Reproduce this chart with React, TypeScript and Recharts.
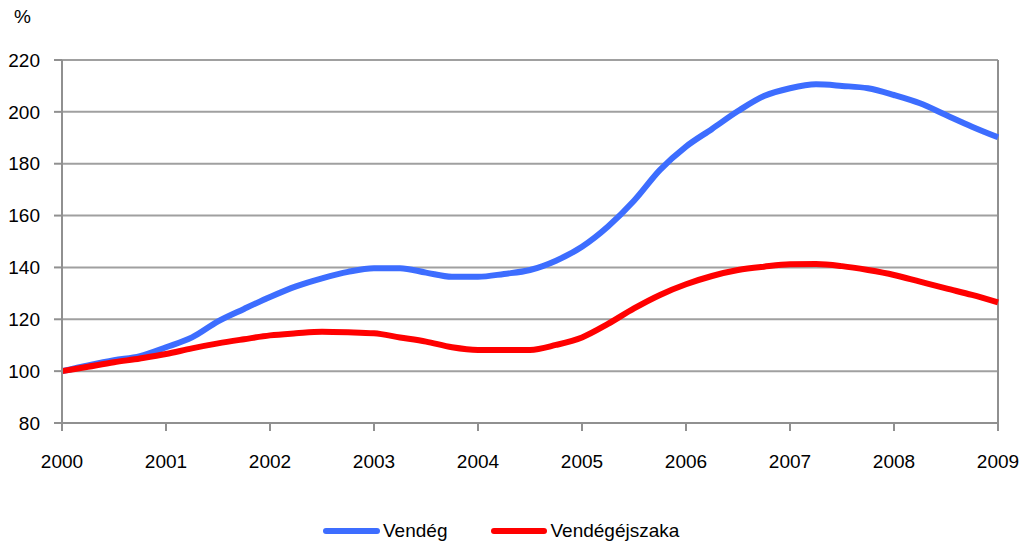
import React from "react";
import { LineChart, Line, XAxis, YAxis, CartesianGrid, ReferenceLine } from "recharts";

const periods: number[] = [
  2000, 2000.25, 2000.5, 2000.75, 2001, 2001.25, 2001.5, 2001.75,
  2002, 2002.25, 2002.5, 2002.75, 2003, 2003.25, 2003.5, 2003.75,
  2004, 2004.25, 2004.5, 2004.75, 2005, 2005.25, 2005.5, 2005.75,
  2006, 2006.25, 2006.5, 2006.75, 2007, 2007.25, 2007.5, 2007.75,
  2008, 2008.25, 2008.5, 2008.75, 2009,
];

const vendeg: number[] = [
  100, 102.2, 104.2, 105.8, 109.2, 113, 119.2, 124, 128.6, 132.7, 135.8, 138.3,
  139.7, 139.7, 138, 136.4, 136.4, 137.5, 139, 142.6, 148, 155.8, 165.7, 177.6,
  186.6, 193.4, 200.3, 206.1, 209.1, 210.6, 210, 209.1, 206.5, 203.3, 198.8, 194.3, 190.2,
];

const vendegejszaka: number[] = [
  100, 101.7, 103.4, 104.9, 106.6, 108.8, 110.7, 112.3, 113.8, 114.6, 115.2, 115,
  114.6, 113, 111.4, 109.2, 108.2, 108.2, 108.2, 110.1, 113, 118.2, 124.2, 129.4,
  133.5, 136.7, 139, 140.3, 141.2, 141.3, 140.5, 139, 137.1, 134.5, 131.9, 129.4, 126.5,
];

const yearTicks: number[] = [2000, 2001, 2002, 2003, 2004, 2005, 2006, 2007, 2008, 2009];
const yTicks: number[] = [80, 100, 120, 140, 160, 180, 200, 220];

const seriesNames = ["Vendég", "Vendégéjszaka"];
const seriesColors = ["#3D6DFF", "#FF0000"];

const data = periods.map((p, i) => ({ t: p, a: vendeg[i], b: vendegejszaka[i] }));

const FONT = "'Liberation Sans', Arial, sans-serif";

export default function App() {
  return (
    <div style={{ position: "absolute", left: 0, top: 0, width: 1019, height: 545, background: "#fff", fontFamily: FONT }}>
      <div style={{ position: "absolute", left: 14, top: 6, fontSize: 19, color: "#000" }}>%</div>
      <LineChart width={1019} height={545} data={data} margin={{ top: 60, right: 21, bottom: 0, left: 0 }}>
        <CartesianGrid horizontal={true} vertical={false} stroke="#a0a0a0" strokeWidth={2} />
        <XAxis
          dataKey="t"
          type="number"
          domain={[2000, 2009]}
          ticks={yearTicks}
          interval={0}
          tickSize={8}
          tickMargin={24}
          stroke="#909090"
          strokeWidth={2}
          tick={{ fill: "#000", fontSize: 19, fontFamily: FONT }}
          height={122}
        />
        <YAxis
          type="number"
          domain={[80, 220]}
          ticks={yTicks}
          interval={0}
          width={62}
          tickSize={8}
          tickMargin={14}
          stroke="#909090"
          strokeWidth={2}
          tick={{ fill: "#000", fontSize: 19, fontFamily: FONT }}
        />
        <ReferenceLine x={2009} stroke="#909090" strokeWidth={2} />
        <Line type="monotone" dataKey="a" name={seriesNames[0]} stroke={seriesColors[0]} strokeWidth={6} dot={false} isAnimationActive={false} />
        <Line type="monotone" dataKey="b" name={seriesNames[1]} stroke={seriesColors[1]} strokeWidth={6} dot={false} isAnimationActive={false} />
      </LineChart>
      <div style={{ position: "absolute", left: 323, top: 520, display: "flex", alignItems: "center", fontSize: 19, color: "#000" }}>
        <span style={{ display: "inline-block", width: 57, height: 6, borderRadius: 3, background: seriesColors[0], marginRight: 3 }} />
        <span style={{ marginRight: 44 }}>{seriesNames[0]}</span>
        <span style={{ display: "inline-block", width: 56, height: 6, borderRadius: 3, background: seriesColors[1], marginRight: 3 }} />
        <span>{seriesNames[1]}</span>
      </div>
    </div>
  );
}
